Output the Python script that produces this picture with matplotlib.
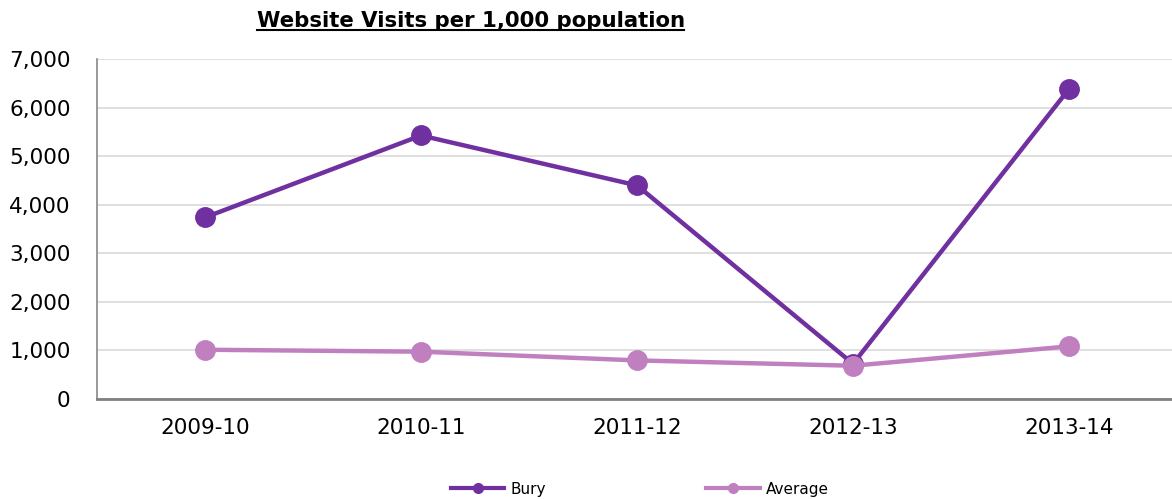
import numpy as np
import matplotlib.pyplot as plt
from matplotlib.lines import Line2D

years = ['2009-10', '2010-11', '2011-12', '2012-13', '2013-14']
bury = [3740, 5430, 4400, 720, 6390]
average = [1010, 970, 790, 680, 1080]

purple = '#7030A0'
lilac = '#C080C0'

fig = plt.figure(figsize=(11.72, 4.99), dpi=100)
ax = fig.add_axes([0.0828, 0.201, 0.9215, 0.680])

x = np.arange(len(years))
ax.plot(x, bury, color=purple, lw=3.2, marker='o', ms=14, label='Bury', zorder=3)
ax.plot(x, average, color=lilac, lw=3.2, marker='o', ms=14, label='Average', zorder=4)

ax.set_xlim(-0.5, len(years) - 0.5)
ax.set_ylim(0, 7000)
ax.set_yticks(range(0, 7001, 1000))
ax.set_yticklabels([f'{v:,}' for v in range(0, 7001, 1000)])
ax.set_xticks(x)
ax.set_xticklabels(years)
ax.tick_params(axis='both', length=0, labelsize=15.5, colors='black')
ax.tick_params(axis='y', pad=19)
ax.tick_params(axis='x', pad=14)

ax.grid(axis='y', color='#d9d9d9', lw=1.2)
ax.set_axisbelow(True)
for s in ['top', 'right']:
    ax.spines[s].set_visible(False)
ax.spines['left'].set_color('#888888')
ax.spines['left'].set_linewidth(1.2)
ax.spines['bottom'].set_color('#808080')
ax.spines['bottom'].set_linewidth(2)

fig.text(0.402, 0.958, 'Website Visits per 1,000 population', ha='center', va='center',
         fontsize=15.3, fontweight='bold')
fig.add_artist(Line2D([0.219, 0.584], [0.940, 0.940], color='black', lw=1.5))

handles = [Line2D([], [], color=purple, lw=3, marker='o', ms=7),
           Line2D([], [], color=lilac, lw=3, marker='o', ms=7)]
fig.legend(handles, ['Bury', 'Average'], loc='center', bbox_to_anchor=(0.546, 0.02),
           ncol=2, frameon=False, fontsize=11, handlelength=3.5, handletextpad=0.4,
           columnspacing=10.5)

fig.savefig('out.png', dpi=100)
